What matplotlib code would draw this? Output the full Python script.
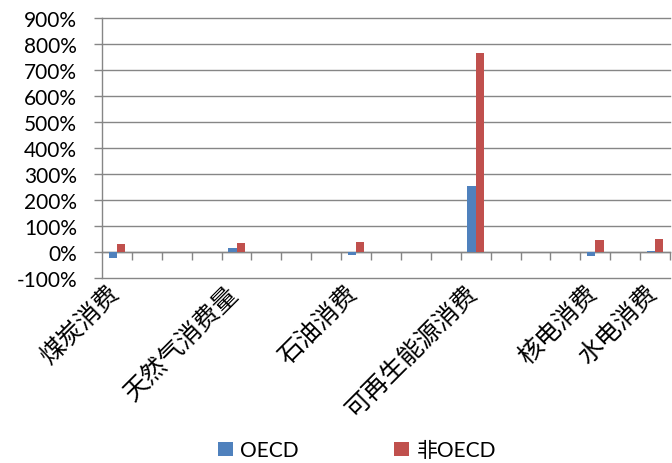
import numpy as np
import matplotlib
matplotlib.use("Agg")
import matplotlib.pyplot as plt
from matplotlib.ticker import FuncFormatter, MultipleLocator

plt.rcParams["font.family"] = ["Lato", "Noto Sans CJK SC", "DejaVu Sans"]

# category slots on the axis (19 slots, only some carry data/labels)
N_SLOTS = 19
categories = ["煤炭消费", "天然气消费量", "石油消费", "可再生能源消费", "核电消费", "水电消费"]
slots = [0, 4, 8, 12, 16, 18]
oecd = [-22, 14, -10, 255, -17, 4]          # %
non_oecd = [31, 33, 37, 765, 47, 50]        # %
series_names = ["OECD", "非OECD"]

BLUE = "#4F81BD"
RED = "#C0504D"
GRID = "#868686"

fig = plt.figure(figsize=(6.72, 4.64), dpi=100)
ax = fig.add_axes([102 / 672, 1 - 279 / 464, 568 / 672, 260 / 464])

x = np.array(slots, dtype=float)
w = 0.28
ax.bar(x - w / 2, oecd, width=w, color=BLUE, label=series_names[0], zorder=3)
ax.bar(x + w / 2, non_oecd, width=w, color=RED, label=series_names[1], zorder=3)

ax.set_xlim(-0.5, N_SLOTS - 0.5)
ax.set_ylim(-100, 900)
ax.yaxis.set_major_locator(MultipleLocator(100))
ax.yaxis.set_major_formatter(FuncFormatter(lambda v, p: f"{v:.0f}%"))
ax.grid(axis="y", color=GRID, linewidth=1.0, zorder=0)
for gl in ax.get_ygridlines():
    gl.set_clip_on(False)

# x axis crosses at 0, tick marks on category boundaries
ax.spines["bottom"].set_position(("data", 0))
ax.spines["bottom"].set_color(GRID)
ax.spines["bottom"].set_linewidth(1.0)
ax.spines["left"].set_color(GRID)
ax.spines["left"].set_linewidth(1.0)
ax.spines["top"].set_visible(False)
ax.spines["right"].set_visible(False)
ax.set_xticks(np.arange(0.5, N_SLOTS, 1.0))
ax.set_xticklabels([])
ax.tick_params(axis="x", direction="out", length=6, width=1.0, color=GRID)
ax.tick_params(axis="y", direction="out", length=6, width=1.0, color=GRID,
               labelsize=15, pad=12)

# category labels sit below the plot area (axis labels "low")
for s, name in zip(slots, categories):
    ax.annotate(name, xy=(s, 0), xycoords=("data", "axes fraction"),
                xytext=(-1.5, -8), textcoords="offset points",
                rotation=45, rotation_mode="anchor", ha="right", va="center",
                fontsize=18, fontweight="light")

fig.legend(loc="center", bbox_to_anchor=(357 / 672, 1 - 451 / 464), ncol=2,
           frameon=False, fontsize=15, handlelength=0.7, handleheight=0.65,
           handletextpad=0.35, columnspacing=4.6)

fig.savefig("out.png", dpi=100)
